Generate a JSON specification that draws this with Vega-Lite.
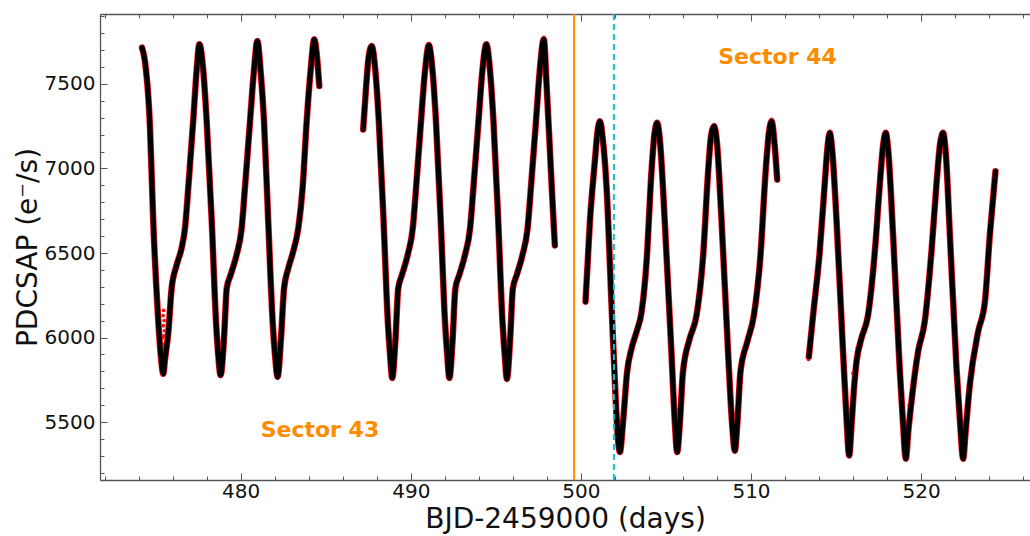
{
  "$schema": "https://vega.github.io/schema/vega-lite/v6.json",
  "width": 930,
  "height": 466,
  "autosize": {"type": "none"},
  "padding": {"left": 100, "top": 14, "right": 0, "bottom": 56},
  "background": "white",
  "config": {
    "view": {"stroke": null},
    "axis": {"grid": false, "domainColor": "#555", "tickColor": "#555", "domainWidth": 1.3, "tickWidth": 1,
      "labelFont": "DejaVu Sans", "titleFont": "DejaVu Sans", "labelFontSize": 20, "titleFontSize": 28,
      "titleFontWeight": "normal", "labelColor": "#111", "titleColor": "#111"}
  },
  "datasets": {
    "lc": [
      {"t": 474.2, "f": 7715, "seg": 1}, {"t": 474.37, "f": 7636, "seg": 1}, {"t": 474.67, "f": 7241, "seg": 1},
      {"t": 474.86, "f": 6687, "seg": 1}, {"t": 475.1, "f": 6194, "seg": 1}, {"t": 475.3, "f": 5900, "seg": 1},
      {"t": 475.45, "f": 5785, "seg": 1}, {"t": 475.55, "f": 5870, "seg": 1}, {"t": 475.75, "f": 6035, "seg": 1},
      {"t": 475.94, "f": 6291, "seg": 1}, {"t": 476.24, "f": 6430, "seg": 1}, {"t": 476.53, "f": 6530, "seg": 1},
      {"t": 476.73, "f": 6650, "seg": 1}, {"t": 476.92, "f": 6887, "seg": 1}, {"t": 477.21, "f": 7283, "seg": 1},
      {"t": 477.41, "f": 7580, "seg": 1}, {"t": 477.57, "f": 7735, "seg": 1}, {"t": 477.8, "f": 7580, "seg": 1},
      {"t": 478.0, "f": 7283, "seg": 1}, {"t": 478.3, "f": 6687, "seg": 1}, {"t": 478.55, "f": 6093, "seg": 1},
      {"t": 478.68, "f": 5896, "seg": 1}, {"t": 478.82, "f": 5777, "seg": 1}, {"t": 479.02, "f": 5995, "seg": 1},
      {"t": 479.18, "f": 6291, "seg": 1}, {"t": 479.41, "f": 6370, "seg": 1}, {"t": 479.76, "f": 6490, "seg": 1},
      {"t": 480.06, "f": 6648, "seg": 1}, {"t": 480.25, "f": 6885, "seg": 1}, {"t": 480.55, "f": 7280, "seg": 1},
      {"t": 480.78, "f": 7578, "seg": 1}, {"t": 480.98, "f": 7755, "seg": 1}, {"t": 481.17, "f": 7578, "seg": 1},
      {"t": 481.37, "f": 7283, "seg": 1}, {"t": 481.62, "f": 6687, "seg": 1}, {"t": 481.88, "f": 6093, "seg": 1},
      {"t": 482.02, "f": 5896, "seg": 1}, {"t": 482.17, "f": 5767, "seg": 1}, {"t": 482.37, "f": 5995, "seg": 1},
      {"t": 482.55, "f": 6291, "seg": 1}, {"t": 482.8, "f": 6410, "seg": 1}, {"t": 483.09, "f": 6510, "seg": 1},
      {"t": 483.39, "f": 6648, "seg": 1}, {"t": 483.64, "f": 6885, "seg": 1}, {"t": 483.88, "f": 7280, "seg": 1},
      {"t": 484.11, "f": 7578, "seg": 1}, {"t": 484.33, "f": 7765, "seg": 1}, {"t": 484.47, "f": 7676, "seg": 1},
      {"t": 484.62, "f": 7488, "seg": 1},

      {"t": 487.2, "f": 7231, "seg": 2}, {"t": 487.35, "f": 7450, "seg": 2}, {"t": 487.5, "f": 7640, "seg": 2},
      {"t": 487.7, "f": 7725, "seg": 2}, {"t": 487.92, "f": 7575, "seg": 2}, {"t": 488.12, "f": 7280, "seg": 2},
      {"t": 488.4, "f": 6690, "seg": 2}, {"t": 488.65, "f": 6095, "seg": 2}, {"t": 488.78, "f": 5900, "seg": 2},
      {"t": 488.91, "f": 5760, "seg": 2}, {"t": 489.1, "f": 5990, "seg": 2}, {"t": 489.26, "f": 6290, "seg": 2},
      {"t": 489.48, "f": 6370, "seg": 2}, {"t": 489.82, "f": 6490, "seg": 2}, {"t": 490.12, "f": 6650, "seg": 2},
      {"t": 490.31, "f": 6885, "seg": 2}, {"t": 490.6, "f": 7280, "seg": 2}, {"t": 490.84, "f": 7580, "seg": 2},
      {"t": 491.06, "f": 7730, "seg": 2}, {"t": 491.28, "f": 7575, "seg": 2}, {"t": 491.48, "f": 7280, "seg": 2},
      {"t": 491.76, "f": 6690, "seg": 2}, {"t": 492.01, "f": 6095, "seg": 2}, {"t": 492.14, "f": 5900, "seg": 2},
      {"t": 492.27, "f": 5760, "seg": 2}, {"t": 492.46, "f": 5990, "seg": 2}, {"t": 492.62, "f": 6290, "seg": 2},
      {"t": 492.85, "f": 6370, "seg": 2}, {"t": 493.19, "f": 6490, "seg": 2}, {"t": 493.49, "f": 6650, "seg": 2},
      {"t": 493.68, "f": 6885, "seg": 2}, {"t": 493.98, "f": 7280, "seg": 2}, {"t": 494.21, "f": 7580, "seg": 2},
      {"t": 494.44, "f": 7735, "seg": 2}, {"t": 494.66, "f": 7575, "seg": 2}, {"t": 494.86, "f": 7280, "seg": 2},
      {"t": 495.14, "f": 6690, "seg": 2}, {"t": 495.39, "f": 6095, "seg": 2}, {"t": 495.52, "f": 5900, "seg": 2},
      {"t": 495.65, "f": 5755, "seg": 2}, {"t": 495.84, "f": 5990, "seg": 2}, {"t": 496.0, "f": 6290, "seg": 2},
      {"t": 496.23, "f": 6370, "seg": 2}, {"t": 496.57, "f": 6490, "seg": 2}, {"t": 496.87, "f": 6650, "seg": 2},
      {"t": 497.06, "f": 6885, "seg": 2}, {"t": 497.36, "f": 7280, "seg": 2}, {"t": 497.59, "f": 7590, "seg": 2},
      {"t": 497.82, "f": 7765, "seg": 2}, {"t": 497.99, "f": 7478, "seg": 2}, {"t": 498.19, "f": 7083, "seg": 2},
      {"t": 498.39, "f": 6687, "seg": 2}, {"t": 498.47, "f": 6545, "seg": 2},

      {"t": 500.27, "f": 6212, "seg": 3}, {"t": 500.53, "f": 6687, "seg": 3}, {"t": 500.82, "f": 7043, "seg": 3},
      {"t": 500.98, "f": 7220, "seg": 3}, {"t": 501.12, "f": 7280, "seg": 3}, {"t": 501.28, "f": 7180, "seg": 3},
      {"t": 501.51, "f": 6885, "seg": 3}, {"t": 501.8, "f": 6194, "seg": 3}, {"t": 502.06, "f": 5601, "seg": 3},
      {"t": 502.18, "f": 5400, "seg": 3}, {"t": 502.29, "f": 5322, "seg": 3}, {"t": 502.48, "f": 5504, "seg": 3},
      {"t": 502.72, "f": 5800, "seg": 3}, {"t": 502.98, "f": 5936, "seg": 3}, {"t": 503.27, "f": 6034, "seg": 3},
      {"t": 503.57, "f": 6153, "seg": 3}, {"t": 503.86, "f": 6450, "seg": 3}, {"t": 504.15, "f": 6984, "seg": 3},
      {"t": 504.32, "f": 7200, "seg": 3}, {"t": 504.48, "f": 7270, "seg": 3}, {"t": 504.65, "f": 7160, "seg": 3},
      {"t": 504.93, "f": 6687, "seg": 3}, {"t": 505.33, "f": 5896, "seg": 3}, {"t": 505.52, "f": 5500, "seg": 3},
      {"t": 505.66, "f": 5322, "seg": 3}, {"t": 505.82, "f": 5500, "seg": 3}, {"t": 506.0, "f": 5797, "seg": 3},
      {"t": 506.4, "f": 5995, "seg": 3}, {"t": 506.8, "f": 6133, "seg": 3}, {"t": 507.19, "f": 6490, "seg": 3},
      {"t": 507.48, "f": 6984, "seg": 3}, {"t": 507.66, "f": 7200, "seg": 3}, {"t": 507.83, "f": 7251, "seg": 3},
      {"t": 508.0, "f": 7150, "seg": 3}, {"t": 508.27, "f": 6687, "seg": 3}, {"t": 508.66, "f": 5896, "seg": 3},
      {"t": 508.88, "f": 5500, "seg": 3}, {"t": 509.05, "f": 5330, "seg": 3}, {"t": 509.2, "f": 5500, "seg": 3},
      {"t": 509.38, "f": 5797, "seg": 3}, {"t": 509.78, "f": 5975, "seg": 3}, {"t": 510.17, "f": 6133, "seg": 3},
      {"t": 510.56, "f": 6490, "seg": 3}, {"t": 510.86, "f": 6984, "seg": 3}, {"t": 511.05, "f": 7210, "seg": 3},
      {"t": 511.21, "f": 7280, "seg": 3}, {"t": 511.38, "f": 7150, "seg": 3}, {"t": 511.54, "f": 6934, "seg": 3},

      {"t": 513.4, "f": 5886, "seg": 4}, {"t": 513.65, "f": 6133, "seg": 4}, {"t": 514.04, "f": 6510, "seg": 4},
      {"t": 514.33, "f": 6905, "seg": 4}, {"t": 514.5, "f": 7130, "seg": 4}, {"t": 514.63, "f": 7211, "seg": 4},
      {"t": 514.78, "f": 7100, "seg": 4}, {"t": 515.02, "f": 6707, "seg": 4}, {"t": 515.41, "f": 5915, "seg": 4},
      {"t": 515.6, "f": 5550, "seg": 4}, {"t": 515.77, "f": 5302, "seg": 4}, {"t": 515.92, "f": 5500, "seg": 4},
      {"t": 516.04, "f": 5680, "seg": 4}, {"t": 516.2, "f": 5856, "seg": 4}, {"t": 516.49, "f": 5995, "seg": 4},
      {"t": 516.88, "f": 6133, "seg": 4}, {"t": 517.28, "f": 6510, "seg": 4}, {"t": 517.57, "f": 6905, "seg": 4},
      {"t": 517.78, "f": 7150, "seg": 4}, {"t": 517.92, "f": 7211, "seg": 4}, {"t": 518.08, "f": 7090, "seg": 4},
      {"t": 518.35, "f": 6608, "seg": 4}, {"t": 518.74, "f": 5817, "seg": 4}, {"t": 518.93, "f": 5500, "seg": 4},
      {"t": 519.1, "f": 5283, "seg": 4}, {"t": 519.25, "f": 5450, "seg": 4}, {"t": 519.43, "f": 5619, "seg": 4},
      {"t": 519.82, "f": 5915, "seg": 4}, {"t": 520.21, "f": 6093, "seg": 4}, {"t": 520.61, "f": 6510, "seg": 4},
      {"t": 520.9, "f": 6905, "seg": 4}, {"t": 521.12, "f": 7150, "seg": 4}, {"t": 521.29, "f": 7211, "seg": 4},
      {"t": 521.45, "f": 7090, "seg": 4}, {"t": 521.69, "f": 6608, "seg": 4}, {"t": 522.08, "f": 5817, "seg": 4},
      {"t": 522.3, "f": 5480, "seg": 4}, {"t": 522.47, "f": 5283, "seg": 4}, {"t": 522.62, "f": 5450, "seg": 4},
      {"t": 522.86, "f": 5718, "seg": 4}, {"t": 523.35, "f": 6034, "seg": 4}, {"t": 523.75, "f": 6212, "seg": 4},
      {"t": 524.04, "f": 6608, "seg": 4}, {"t": 524.37, "f": 6984, "seg": 4}
    ],
    "outliers": [
      {"t": 475.44, "f": 6130}, {"t": 475.46, "f": 6070}, {"t": 475.48, "f": 6010}, {"t": 475.5, "f": 5960},
      {"t": 475.45, "f": 5940}, {"t": 475.52, "f": 6040}, {"t": 475.47, "f": 6160}, {"t": 475.5, "f": 6100},
      {"t": 475.43, "f": 6000}, {"t": 498.12, "f": 7165},
      {"t": 497.82, "f": 7775}, {"t": 511.2, "f": 7290}, {"t": 513.38, "f": 5870}, {"t": 515.98, "f": 5660},
      {"t": 516.0, "f": 5720}, {"t": 515.99, "f": 5790}, {"t": 516.25, "f": 5940}, {"t": 519.28, "f": 5560},
      {"t": 519.3, "f": 5600}
    ],
    "sectors": [
      {"t": 484.66, "f": 5453, "label": "Sector 43"},
      {"t": 511.56, "f": 7661, "label": "Sector 44"}
    ],
    "boundary": [{"t": 499.6}],
    "event": [{"t": 501.94}]
  },
  "resolve": {"axis": {"x": "independent", "y": "independent"}},
  "layer": [
    {
      "data": {"name": "lc"},
      "mark": {"type": "line", "color": "#e8141e", "strokeWidth": 6.5, "interpolate": "monotone", "strokeCap": "round"},
      "encoding": {
        "x": {"field": "t", "type": "quantitative",
          "scale": {"domain": [471.73, 526.4], "nice": false, "zero": false},
          "axis": {"orient": "bottom", "title": "BJD-2459000 (days)", "values": [472,474,476,478,480,482,484,486,488,490,492,494,496,498,500,502,504,506,508,510,512,514,516,518,520,522,524,526],
            "labelExpr": "datum.value % 10 === 0 ? datum.label : ''",
            "tickSize": {"condition": {"test": "datum.value % 10 === 0", "value": -7}, "value": -4},
            "labelPadding": 8, "titlePadding": 4, "labelFlush": false}},
        "y": {"field": "f", "type": "quantitative",
          "scale": {"domain": [5157, 7914], "nice": false, "zero": false},
          "axis": {"orient": "left", "title": "PDCSAP (e⁻/s)", "values": [5200,5300,5400,5500,5600,5700,5800,5900,6000,6100,6200,6300,6400,6500,6600,6700,6800,6900,7000,7100,7200,7300,7400,7500,7600,7700,7800,7900],
            "labelExpr": "datum.value % 500 === 0 ? datum.label : ''",
            "tickSize": {"condition": {"test": "datum.value % 500 === 0", "value": -7}, "value": -4},
            "labelPadding": 12, "titlePadding": 2, "format": "d"}},
        "detail": {"field": "seg", "type": "nominal"}
      }
    },
    {
      "data": {"name": "outliers"},
      "mark": {"type": "point", "filled": true, "color": "#ff1010", "size": 14, "opacity": 1},
      "encoding": {
        "x": {"field": "t", "type": "quantitative", "axis": null},
        "y": {"field": "f", "type": "quantitative", "axis": null}
      }
    },
    {
      "data": {"name": "lc"},
      "mark": {"type": "line", "color": "#000000", "strokeWidth": 5, "interpolate": "monotone", "strokeCap": "round"},
      "encoding": {
        "x": {"field": "t", "type": "quantitative", "axis": null},
        "y": {"field": "f", "type": "quantitative", "axis": null},
        "detail": {"field": "seg", "type": "nominal"}
      }
    },
    {
      "data": {"name": "boundary"},
      "mark": {"type": "rule", "color": "#ff8c00", "strokeWidth": 2},
      "encoding": {
        "x": {"field": "t", "type": "quantitative",
          "axis": {"orient": "top", "title": null, "labels": false, "values": [472,474,476,478,480,482,484,486,488,490,492,494,496,498,500,502,504,506,508,510,512,514,516,518,520,522,524,526],
            "tickSize": {"condition": {"test": "datum.value % 10 === 0", "value": -7}, "value": -4}}}
      }
    },
    {
      "data": {"name": "event"},
      "mark": {"type": "rule", "color": "#17becf", "strokeWidth": 2, "strokeDash": [6, 4]},
      "encoding": {
        "x": {"field": "t", "type": "quantitative", "axis": null}
      }
    },
    {
      "data": {"name": "sectors"},
      "mark": {"type": "text", "font": "DejaVu Sans", "fontWeight": "bold", "fontSize": 22, "color": "#ff8c00", "align": "center", "baseline": "middle"},
      "encoding": {
        "x": {"field": "t", "type": "quantitative", "axis": null},
        "y": {"field": "f", "type": "quantitative", "axis": null},
        "text": {"field": "label", "type": "nominal"}
      }
    }
  ]
}
